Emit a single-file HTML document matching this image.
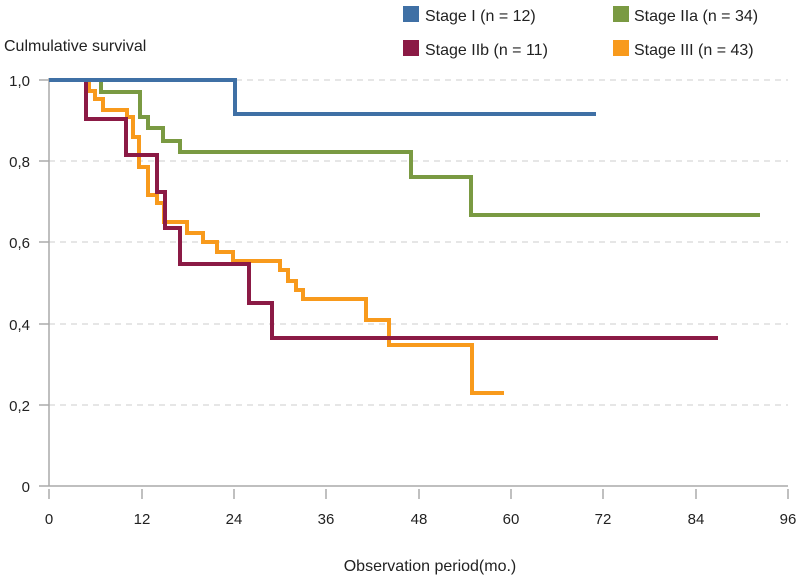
<!DOCTYPE html>
<html><head><meta charset="utf-8"><style>body{margin:0;background:#fff}svg{display:block}text{font-family:"Liberation Sans",sans-serif;fill:#222}</style></head><body>
<svg width="800" height="582" viewBox="0 0 800 582" xmlns="http://www.w3.org/2000/svg">
<g stroke="#ccc" stroke-dasharray="6,5" stroke-width="1">
<line x1="49" y1="80" x2="788" y2="80"/><line x1="49" y1="161" x2="788" y2="161"/><line x1="49" y1="242" x2="788" y2="242"/><line x1="49" y1="324" x2="788" y2="324"/><line x1="49" y1="405" x2="788" y2="405"/>
</g>
<g stroke="#aaa" stroke-width="1.5">
<line x1="49" y1="78" x2="49" y2="486"/><line x1="39" y1="486" x2="788" y2="486"/>
<line x1="39" y1="80" x2="49" y2="80"/><line x1="39" y1="161" x2="49" y2="161"/><line x1="39" y1="242" x2="49" y2="242"/><line x1="39" y1="324" x2="49" y2="324"/><line x1="39" y1="405" x2="49" y2="405"/>
<line x1="49" y1="489" x2="49" y2="499"/><line x1="142" y1="489" x2="142" y2="499"/><line x1="234" y1="489" x2="234" y2="499"/><line x1="326" y1="489" x2="326" y2="499"/><line x1="419" y1="489" x2="419" y2="499"/><line x1="511" y1="489" x2="511" y2="499"/><line x1="603" y1="489" x2="603" y2="499"/><line x1="696" y1="489" x2="696" y2="499"/><line x1="788" y1="489" x2="788" y2="499"/>
</g>
<g font-size="15" text-anchor="end">
<text x="30" y="86">1,0</text><text x="30" y="167">0,8</text><text x="30" y="248">0,6</text><text x="30" y="330">0,4</text><text x="30" y="411">0,2</text><text x="30" y="492">0</text>
</g>
<g font-size="15" text-anchor="middle">
<text x="49" y="524">0</text><text x="142" y="524">12</text><text x="234" y="524">24</text><text x="326" y="524">36</text><text x="419" y="524">48</text><text x="511" y="524">60</text><text x="603" y="524">72</text><text x="696" y="524">84</text><text x="788" y="524">96</text>
<text x="430" y="571" font-size="16">Observation period(mo.)</text>
</g>
<text x="4" y="51" font-size="16">Culmulative survival</text>
<g fill="none" stroke-width="4" stroke-linejoin="miter">
<polyline stroke="#7a9a42" points="101,80 101,92 140,92 140,117 148,117 148,128 163,128 163,141 180,141 180,152 411,152 411,177 471,177 471,215 760,215"/>
<polyline stroke="#f89a1c" points="89,80 89,91 95,91 95,99 103,99 103,110 127,110 127,117 133,117 133,137 139,137 139,167 148,167 148,195 157,195 157,203 164,203 164,222 187,222 187,233 203,233 203,242 217,242 217,252 233,252 233,261 280,261 280,270 288,270 288,281 296,281 296,290 303,290 303,299 366,299 366,320 389,320 389,345 472,345 472,393 504,393"/>
<polyline stroke="#8b1a45" points="86,80 86,119 126,119 126,155 157,155 157,192 165,192 165,228 180,228 180,264 249,264 249,303 272,303 272,338 718,338"/>
<polyline stroke="#3f70a5" points="49,80 235,80 235,114 596,114"/>
</g>
<rect x="403" y="6" width="16" height="16" fill="#3f70a5"/><text x="425" y="21" font-size="16">Stage I (n = 12)</text>
<rect x="613" y="6" width="16" height="16" fill="#7a9a42"/><text x="634" y="21" font-size="16">Stage IIa (n = 34)</text>
<rect x="403" y="40" width="16" height="16" fill="#8b1a45"/><text x="425" y="55" font-size="16">Stage IIb (n = 11)</text>
<rect x="613" y="40" width="16" height="16" fill="#f89a1c"/><text x="634" y="55" font-size="16">Stage III (n = 43)</text>
</svg>
</body></html>
